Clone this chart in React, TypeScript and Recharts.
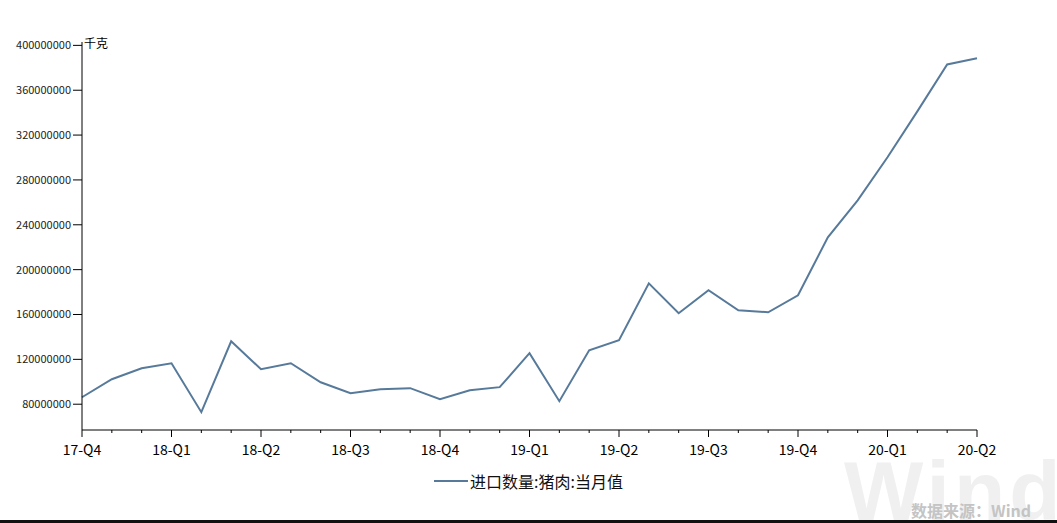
import React from 'react';
import { LineChart, Line, XAxis, YAxis } from 'recharts';

const months: string[] = [
  '2017-12',
  '2018-01', '2018-02', '2018-03', '2018-04', '2018-05', '2018-06',
  '2018-07', '2018-08', '2018-09', '2018-10', '2018-11', '2018-12',
  '2019-01', '2019-02', '2019-03', '2019-04', '2019-05', '2019-06',
  '2019-07', '2019-08', '2019-09', '2019-10', '2019-11', '2019-12',
  '2020-01', '2020-02', '2020-03', '2020-04', '2020-05', '2020-06',
];

const tickLabels: string[] = [
  '17-Q4',
  '', '', '18-Q1', '', '', '18-Q2',
  '', '', '18-Q3', '', '', '18-Q4',
  '', '', '19-Q1', '', '', '19-Q2',
  '', '', '19-Q3', '', '', '19-Q4',
  '', '', '20-Q1', '', '', '20-Q2',
];

const porkImports: number[] = [
  86200000,
  102300000, 112100000, 116500000, 72900000, 136100000, 111200000,
  116500000, 99600000, 89800000, 93400000, 94300000, 84500000,
  92500000, 95200000, 125500000, 82700000, 128100000, 137000000,
  187800000, 161100000, 181600000, 163800000, 162000000, 177100000,
  228800000, 261800000, 300200000, 341100000, 383000000, 388500000,
];

const yTicks: number[] = [
  80000000, 120000000, 160000000, 200000000, 240000000,
  280000000, 320000000, 360000000, 400000000,
];

const seriesName = '进口数量:猪肉:当月值';
const unitLabel = '千克';
const sourceLabel = '数据来源：Wind';

const data = months.map((m, i) => ({ month: m, value: porkImports[i] }));
const labelByMonth: Record<string, string> = {};
months.forEach((m, i) => { labelByMonth[m] = tickLabels[i]; });

const LINE_COLOR = '#577a9b';
const FONT = '"Microsoft YaHei", "Noto Sans CJK SC", "Noto Sans", sans-serif';

const XTick = (props: any) => {
  const { x, y, payload } = props;
  const label = labelByMonth[payload.value] || '';
  const major = label !== '';
  return (
    <g>
      <line x1={x} y1={y} x2={x} y2={y + (major ? 7 : 3)} stroke="#000" strokeWidth={1} />
      {major && (
        <text x={x} y={y + 25} textAnchor="middle" fontSize={14} fill="#000" fontFamily={FONT}>
          {label}
        </text>
      )}
    </g>
  );
};

export default function App() {
  return (
    <div style={{ position: 'absolute', left: 0, top: 0, width: 1057, height: 523, background: '#fff', overflow: 'hidden' }}>
      <div style={{ position: 'absolute', left: 844, top: 441, fontSize: 84, lineHeight: '100px', fontWeight: 700, color: '#f0f0f0', fontFamily: 'Arial, "Liberation Sans", sans-serif', letterSpacing: 4 }}>
        Wind
      </div>
      <LineChart width={1057} height={523} data={data} margin={{ top: 42, right: 80, left: 0, bottom: 63 }}>
        <XAxis
          dataKey="month"
          interval={0}
          tickSize={0}
          tickMargin={0}
          tickLine={false}
          tick={<XTick />}
          axisLine={{ stroke: '#000', strokeWidth: 1 }}
          height={30}
          padding={{ left: 0, right: 0 }}
        />
        <YAxis
          domain={[57000000, 403000000]}
          ticks={yTicks}
          width={82}
          tickSize={9}
          tickMargin={2}
          interval={0}
          tickLine={{ stroke: '#000' }}
          axisLine={{ stroke: '#000', strokeWidth: 1 }}
          tick={{ fontSize: 11, fill: '#222', fontFamily: FONT }}
          allowDataOverflow
        />
        <Line
          type="linear"
          dataKey="value"
          name={seriesName}
          stroke={LINE_COLOR}
          strokeWidth={2}
          dot={false}
          activeDot={false}
          isAnimationActive={false}
        />
      </LineChart>
      <div style={{ position: 'absolute', left: 911, top: 498, fontSize: 16, fontWeight: 700, color: '#c4c4c4', fontFamily: FONT, whiteSpace: 'nowrap' }}>
        {sourceLabel}
      </div>
      <div style={{ position: 'absolute', left: 0, top: 469, width: 1057, display: 'flex', justifyContent: 'center', alignItems: 'center', fontFamily: FONT }}>
        <svg width={34} height={4} style={{ marginRight: 2 }}>
          <line x1={0} y1={2} x2={34} y2={2} stroke={LINE_COLOR} strokeWidth={2} />
        </svg>
        <span style={{ fontSize: 16, color: '#111' }}>{seriesName}</span>
      </div>
      <div style={{ position: 'absolute', left: 84, top: 34, fontSize: 12, color: '#000', fontFamily: FONT }}>
        {unitLabel}
      </div>
      <div style={{ position: 'absolute', left: 0, top: 520, width: 1057, height: 3, background: '#111' }} />
    </div>
  );
}
